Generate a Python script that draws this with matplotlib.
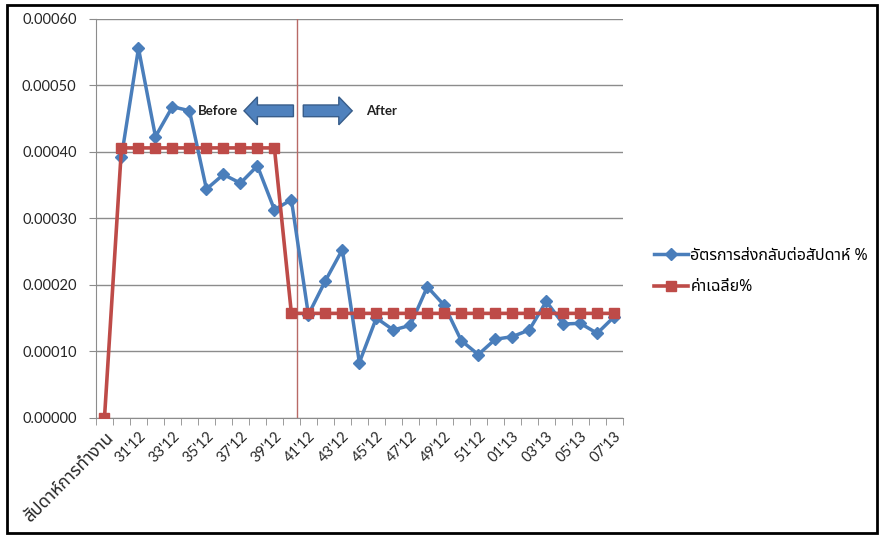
import matplotlib
matplotlib.use("Agg")
import matplotlib.pyplot as plt
from matplotlib import font_manager
from matplotlib.ft2font import FT2Font
from matplotlib.patches import FancyArrow
import numpy as np

# ---- data ----
categories = ["สัปดาห์การทำงาน"] + [f"{w:02d}'12" for w in range(30, 53)] + [f"{w:02d}'13" for w in range(1, 8)]
return_rate = [np.nan, 0.000393, 0.000556, 0.000423, 0.000468, 0.000462, 0.000344, 0.000366,
               0.000353, 0.000379, 0.000313, 0.000328, 0.000155, 0.000206, 0.000253, 0.000083,
               0.000150, 0.000132, 0.000139, 0.000197, 0.000169, 0.000116, 0.000095, 0.000118,
               0.000122, 0.000132, 0.000175, 0.000141, 0.000142, 0.000127, 0.000152]
average = [0.0] + [0.000406] * 10 + [0.000157] * 20
series_names = ["อัตรการส่งกลับต่อสัปดาห์ %", "ค่าเฉลี่ย%"]
yticks = [0.0, 0.0001, 0.0002, 0.0003, 0.0004, 0.0005, 0.0006]

# ---- find a font with Thai glyphs ----
thai_font = None
found = []
for f in font_manager.fontManager.ttflist:
    try:
        cm = FT2Font(f.fname).get_charmap()
        if 0x0E01 in cm and 0x0E31 in cm:
            found.append(f.name)
    except Exception:
        pass
found = sorted(set(found))
for pref in ["Tahoma", "Noto Sans Thai", "Noto Sans Thai UI", "Sarabun", "Loma", "Garuda", "Anuphan"]:
    if pref in found:
        thai_font = pref
        break
if thai_font is None and found:
    thai_font = found[0]
thai_family = ([thai_font] if thai_font else []) + ["DejaVu Sans"]
num_family = ["Lato", "DejaVu Sans"]

plt.rcParams['font.family'] = thai_family

fig = plt.figure(figsize=(8.81, 5.36), dpi=100)
ax = fig.add_axes([96 / 881, 1 - 417.7 / 536, (622.7 - 96) / 881, (417.7 - 19) / 536])

x = np.arange(len(categories))
ax.plot(x, return_rate, color="#4a7ebb", lw=2.5, marker="D", ms=6,
        markeredgecolor="#4a7ebb", label=series_names[0], zorder=3)
ax.plot(x, average, color="#be4b48", lw=2.6, marker="s", ms=6.5,
        markeredgecolor="#be4b48", label=series_names[1], zorder=4)

ax.set_xlim(-0.5, len(categories) - 0.5)
ax.set_ylim(0, 0.0006)
ax.set_yticks(yticks)
ax.set_yticklabels([f"{v:.5f}" for v in yticks], family=num_family, fontsize=10.5, color="#262626")
ax.yaxis.grid(True, color="#8c8c8c", lw=1)
ax.set_axisbelow(True)
ax.tick_params(axis="y", length=5, color="#8c8c8c", pad=9)

# x ticks: marks at boundaries, labels every second category
ax.set_xticks(np.arange(-0.5, len(categories)), minor=True)
ax.set_xticks(x[::2])
labels = ax.set_xticklabels(categories[::2], rotation=45, ha="right", rotation_mode="anchor", fontsize=10.5,
                            color="#262626")
for lab in labels:
    if lab.get_text() == categories[0]:
        lab.set_family(thai_family)
        lab.set_fontsize(12.5)
    else:
        lab.set_family(num_family)
ax.tick_params(axis="x", which="major", length=0, pad=8)
ax.tick_params(axis="x", which="minor", length=5, color="#8c8c8c")

for s in ["top", "right"]:
    ax.spines[s].set_visible(False)
for s in ["left", "bottom"]:
    ax.spines[s].set_color("#8c8c8c")

# before/after divider and arrows
ax.axvline(11.35, color="#b86a66", lw=1, zorder=2)
ax.add_patch(FancyArrow(11.12, 0.0004618, -2.91, 0, width=0.0000176, head_width=0.0000421,
                        head_length=0.79, length_includes_head=True, facecolor="#4f81bd",
                        edgecolor="#385d8a", lw=1, zorder=5))
ax.add_patch(FancyArrow(11.70, 0.0004618, 2.88, 0, width=0.0000176, head_width=0.0000421,
                        head_length=0.79, length_includes_head=True, facecolor="#4f81bd",
                        edgecolor="#385d8a", lw=1, zorder=5))
ax.text(6.67, 0.000462, "Before", ha="center", va="center", fontsize=9.5, fontweight="bold",
        family=num_family, color="#222222", zorder=6)
ax.text(16.33, 0.000462, "After", ha="center", va="center", fontsize=9.5, fontweight="bold",
        family=num_family, color="#222222", zorder=6)

fig.legend(loc="center left", bbox_to_anchor=(640 / 881, 1 - 271.5 / 536), frameon=False,
           handlelength=2.1, handletextpad=0.15, labelspacing=1.0, numpoints=1,
           prop={"family": thai_family, "size": 11.5})

# outer border
fig.patches.append(plt.Rectangle((7 / 881, 3 / 536), 870 / 881, 528 / 536, transform=fig.transFigure,
                                 fill=False, edgecolor="black", lw=2))

fig.savefig("out.png", dpi=100)
